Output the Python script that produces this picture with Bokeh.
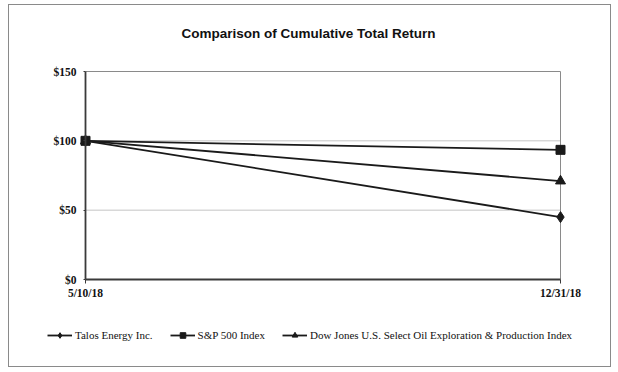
from bokeh.plotting import figure
from bokeh.models import FixedTicker, Legend, LegendItem, Range1d, Label
from bokeh.layouts import column
from bokeh.embed import file_html
from bokeh.resources import INLINE

title_text = "Comparison of Cumulative Total Return"
dates = ["5/10/18", "12/31/18"]
talos = [100, 45]
sp500 = [100, 93.5]
dowjones = [100, 71]
y_ticks = [0, 50, 100, 150]
series_names = ["Talos Energy Inc.", "S&P 500 Index",
                "Dow Jones U.S. Select Oil Exploration & Production Index"]

xs = list(range(len(dates)))
n = len(dates) - 1
ymax = y_ticks[-1]
col = "#1a1a1a"
lw = 1.8

# layout geometry (pixels)
W, H = 601, 361
mb_left, mb_bottom = 36, 22
plot_left, plot_right = 76, 551      # x of first / last date
plot_top, plot_bottom = 66, 274      # y of top tick / zero
fw, fh = W - mb_left, H - mb_bottom
xs_px = (plot_right - plot_left) / n
ys_px = (plot_bottom - plot_top) / ymax
x_start = -(plot_left - mb_left) / xs_px
y_end = ymax + plot_top / ys_px
y_start = -(fh - plot_bottom) / ys_px

p = figure(width=W, height=H, output_backend="svg", toolbar_location=None, title=None,
           x_range=Range1d(x_start, x_start + fw / xs_px), y_range=Range1d(y_start, y_end),
           min_border_left=mb_left, min_border_right=0, min_border_top=0, min_border_bottom=mb_bottom)
p.outline_line_color = None
p.background_fill_color = "white"

p.xaxis.ticker = FixedTicker(ticks=xs)
p.xaxis.major_label_overrides = {i: d for i, d in enumerate(dates)}
p.xaxis.fixed_location = 0
p.xaxis.bounds = (0, n)
p.yaxis.ticker = FixedTicker(ticks=y_ticks)
p.yaxis.major_label_overrides = {v: f"${v}" for v in y_ticks}
p.yaxis.fixed_location = 0
p.yaxis.bounds = (0, ymax)
for ax in (p.xaxis, p.yaxis):
    ax.axis_line_color = "#3a3a3a"
    ax.axis_line_width = 1.8
    ax.major_tick_line_color = "#3a3a3a"
    ax.major_tick_in = 0
    ax.major_tick_out = 4
    ax.minor_tick_line_color = None
    ax.major_label_text_font = "Liberation Serif"
    ax.major_label_text_font_style = "bold"
    ax.major_label_text_font_size = "11.5px"
    ax.major_label_text_color = "#111111"
p.yaxis.major_tick_out = 2
p.yaxis.major_label_standoff = 7
p.xaxis.major_label_standoff = 3
p.xgrid.grid_line_color = None
p.ygrid.grid_line_color = None

grid_vals = y_ticks[1:-1]
p.segment(x0=[0] * len(grid_vals), x1=[n] * len(grid_vals), y0=grid_vals, y1=grid_vals,
          line_color="#c4c4c4", line_width=1)
p.segment(x0=[0, n], x1=[n, n], y0=[ymax, 0], y1=[ymax, ymax], line_color="#8a8a8a", line_width=1)

markers = ["diamond", "square", "triangle"]
sizes = [11, 9, 10]
items = []
for name, vals, mk, sz in zip(series_names, [talos, sp500, dowjones], markers, sizes):
    r_line = p.line(xs, vals, line_color=col, line_width=lw)
    r_mark = p.scatter(xs, vals, marker=mk, size=sz, color=col)
    items.append(LegendItem(label=name, renderers=[r_line, r_mark]))

legend = Legend(items=items, orientation="horizontal", location=(2, 2))
legend.label_text_font = "Liberation Serif"
legend.label_text_font_size = "11px"
legend.label_text_color = "#111111"
legend.glyph_width = 25
legend.glyph_height = 14
legend.label_height = 14
legend.label_standoff = 3
legend.spacing = 17
legend.border_line_color = None
legend.background_fill_alpha = 0
legend.padding = 0
legend.margin = 0
p.add_layout(legend, "center")

p.add_layout(Label(x=(299 - plot_left) / xs_px, y=ymax + (plot_top - 28) / ys_px, text=title_text,
                   text_align="center", text_baseline="middle",
                   text_font="Liberation Sans", text_font_style="bold",
                   text_font_size="13.5px", text_color="#111111"))

layout = column(p, styles={"border": "1px solid #8a8a8a", "margin-left": "8px", "margin-top": "4px"})

open("out.html", "w").write(file_html(layout, INLINE))
